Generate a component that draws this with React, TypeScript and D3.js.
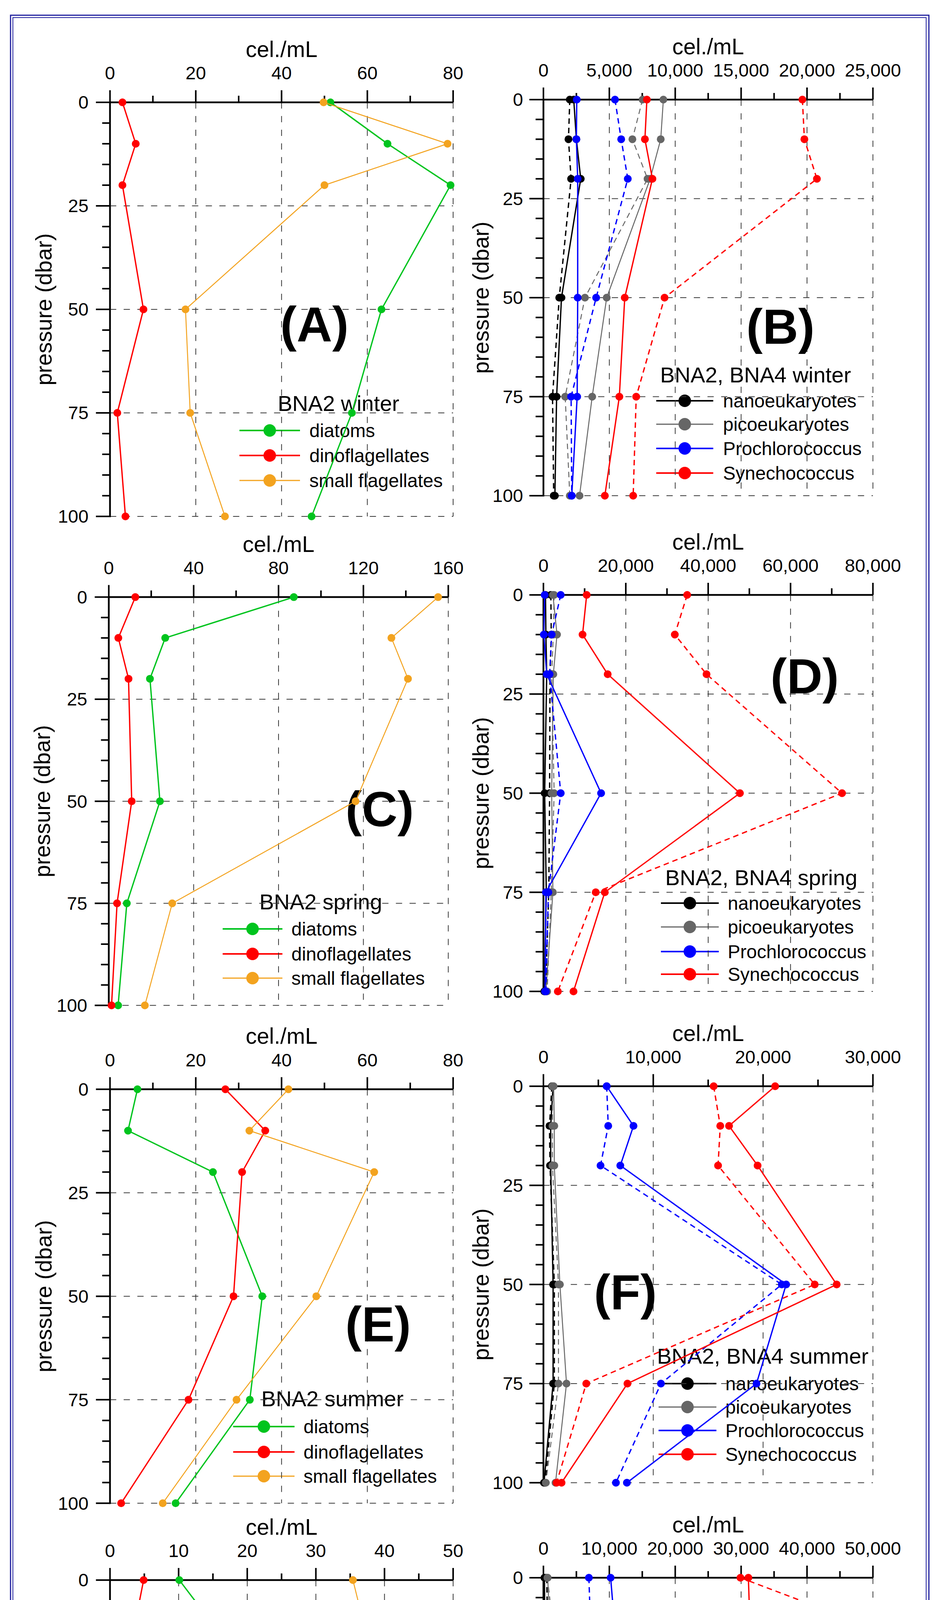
import * as d3 from "d3";

const W = 2409;
const H = 5241;

const DEPTHS = [0, 10, 20, 50, 75, 100];
const Y_TICKS = [0, 25, 50, 75, 100];

// BNA2 microscopy counts (cel./mL)
const winterDiatoms = [51.4, 64.7, 79.4, 63.3, 56.4, 47.0];
const winterDino = [2.9, 6.0, 2.9, 7.8, 1.7, 3.6];
const winterSmall = [49.8, 78.7, 50.0, 17.6, 18.7, 26.8];

const springDiatoms = [87.2, 26.6, 19.4, 24.1, 8.5, 4.4];
const springDino = [12.5, 4.5, 9.3, 10.8, 3.9, 1.3];
const springSmall = [155.2, 133.2, 141.0, 116.3, 29.9, 17.0];

const summerDiatoms = [6.4, 4.2, 24.0, 35.5, 32.6, 15.3];
const summerDino = [26.9, 36.2, 30.8, 28.8, 18.3, 2.6];
const summerSmall = [41.6, 32.5, 61.6, 48.1, 29.5, 12.3];

const autumnDiatoms = [10.1, 14.7, 12.8, 5.9, 7.8, 2.2];
const autumnDino = [4.9, 3.7, 2.1, 1.5, 0.9, 0.8];
const autumnSmall = [35.4, 36.9, 44.3, 27.7, 29.6, 8.6];

// flow cytometry, BNA2 (solid) and BNA4 (dashed), cel./mL
const winterNano2 = [2300, 2500, 2830, 1370, 1000, 870];
const winterNano4 = [2000, 1900, 2100, 1200, 690, 780];
const winterPico2 = [9100, 8900, 8100, 4800, 3700, 2740];
const winterPico4 = [7520, 6750, 7900, 3150, 1650, 2000];
const winterPro2 = [2530, 2500, 2600, 2600, 2560, 2150];
const winterPro4 = [5430, 5900, 6400, 4000, 2100, 2150];
const winterSyn2 = [7850, 7700, 8270, 6170, 5760, 4660];
const winterSyn4 = [19650, 19800, 20750, 9190, 7040, 6810];

const springNano2 = [500, 600, 800, 300, 700, 200];
const springNano4 = [1800, 1900, 1600, 1500, 1300, 500];
const springPico2 = [2300, 3300, 2400, 2000, 2300, 600];
const springPico4 = [2600, 2400, 2000, 2600, 1900, 900];
const springPro2 = [300, 100, 800, 14000, 600, 400];
const springPro4 = [4200, 2000, 1500, 4200, 1200, 600];
const springSyn2 = [10500, 9500, 15600, 47700, 14900, 7300];
const springSyn4 = [34900, 31900, 39600, 72500, 12700, 3500];

const summerNano2 = [880, 660, 660, 880, 880, 50];
const summerNano4 = [770, 550, 600, 990, 990, 160];
const summerPico2 = [930, 990, 990, 1500, 2100, 1100];
const summerPico4 = [820, 820, 820, 1370, 1370, 220];
const summerPro2 = [5760, 8200, 7000, 22100, 19400, 7600];
const summerPro4 = [5760, 5900, 5200, 21700, 10700, 6600];
const summerSyn2 = [21100, 16900, 19500, 26700, 7650, 1650];
const summerSyn4 = [15500, 16100, 15900, 24700, 3900, 1200];

const autumnNano2 = [150, 200, 200, 150, 100, 100];
const autumnNano4 = [500, 600, 600, 500, 700, 300];
const autumnPico2 = [650, 900, 1000, 650, 3400, 200];
const autumnPico4 = [600, 1300, 1200, 600, 800, 350];
const autumnPro2 = [10200, 10700, 16900, 18600, 11200, 3500];
const autumnPro4 = [6900, 7100, 10000, 23200, 15600, 7100];
const autumnSyn2 = [31100, 31300, 28200, 13600, 4300, 400];
const autumnSyn4 = [29900, 45800, 41100, 15400, 4200, 1300];

const GREEN = "#00c41e";
const RED = "#ff0000";
const ORANGE = "#f3a31f";
const GRAY = "#666666";
const BLUE = "#0000ff";
const BLACK = "#000000";
const FRAME = "#1f1f9e";

const FONT = "'Liberation Sans', Arial, Helvetica, sans-serif";

const MICRO_LABELS = ["diatoms", "dinoflagellates", "small flagellates"];
const MICRO_COLORS = [GREEN, RED, ORANGE];
const PICO_LABELS = ["nanoeukaryotes", "picoeukaryotes", "Prochlorococcus", "Synechococcus"];
const PICO_COLORS = [BLACK, GRAY, BLUE, RED];

// orange and gray traces are drawn a little thinner in the original
const strokeFor = (c: string) => (c === ORANGE || c === GRAY ? 2.5 : 3.4);

type Series = { values: number[]; color: string; dashed?: boolean };

interface PanelProps {
  letter: string;
  x0: number;
  x1: number;
  y0: number;
  y1: number;
  xMax: number;
  xStep: number;
  series: Series[];
  letterX: number;
  letterY: number;
  legendTitle: string;
  legendTitleX: number;
  legendTitleY: number;
  legendRows: number[];
  legendLine: [number, number];
  legendTextX: number;
  legendLabels: string[];
  legendColors: string[];
  titleOffset: number;
  labelGap: number;
}

function micro(a: number[], b: number[], c: number[]): Series[] {
  return [
    { values: a, color: GREEN },
    { values: b, color: RED },
    { values: c, color: ORANGE },
  ];
}

function pico(s: number[][]): Series[] {
  // s = [nano2, nano4, pico2, pico4, pro2, pro4, syn2, syn4]
  const out: Series[] = [];
  PICO_COLORS.forEach((color, i) => {
    out.push({ values: s[i * 2 + 1], color, dashed: true });
    out.push({ values: s[i * 2], color });
  });
  return out;
}

function Panel(p: PanelProps) {
  const x = d3.scaleLinear().domain([0, p.xMax]).range([p.x0, p.x1]);
  const y = d3.scaleLinear().domain([0, 100]).range([p.y0, p.y1]);
  const majors = d3.range(0, p.xMax + p.xStep / 2, p.xStep);
  const minors = d3.range(p.xStep / 2, p.xMax, p.xStep);
  const yMinors = d3.range(5, 100, 5).filter((v) => v % 25 !== 0);
  const fmt = p.xMax >= 1000 ? d3.format(",") : d3.format("d");
  const line = d3
    .line<number>()
    .x((v) => x(v))
    .y((_, i) => y(DEPTHS[i]));
  const gridDash = "16 19";

  return (
    <g>
      {/* legend */}
      <text
        x={p.legendTitleX}
        y={p.legendTitleY}
        dy="0.35em"
        fontSize={56}
        fontFamily={FONT}
        fill="#000"
      >
        {p.legendTitle}
      </text>
      {p.legendLabels.map((lab, i) => (
        <g key={lab}>
          <line
            x1={p.legendLine[0]}
            x2={p.legendLine[1]}
            y1={p.legendRows[i]}
            y2={p.legendRows[i]}
            stroke={p.legendColors[i]}
            strokeWidth={strokeFor(p.legendColors[i]) + 0.6}
          />
          <circle
            cx={(p.legendLine[0] + p.legendLine[1]) / 2}
            cy={p.legendRows[i]}
            r={16}
            fill={p.legendColors[i]}
          />
          <text
            x={p.legendTextX}
            y={p.legendRows[i]}
            dy="0.35em"
            fontSize={48}
            fontFamily={FONT}
            fill="#000"
          >
            {lab}
          </text>
        </g>
      ))}

      {/* grid */}
      {majors
        .filter((v) => v > 0)
        .map((v) => (
          <line
            key={"gx" + v}
            x1={x(v)}
            x2={x(v)}
            y1={p.y0}
            y2={p.y1}
            stroke="#3a3a3a"
            strokeWidth={2}
            strokeDasharray={gridDash}
          />
        ))}
      {Y_TICKS.filter((v) => v > 0).map((v) => (
        <line
          key={"gy" + v}
          x1={p.x0}
          x2={p.x1}
          y1={y(v)}
          y2={y(v)}
          stroke="#3a3a3a"
          strokeWidth={2}
          strokeDasharray={gridDash}
        />
      ))}

      {/* axes */}
      <line x1={p.x0} x2={p.x1} y1={p.y0} y2={p.y0} stroke="#000" strokeWidth={4.5} />
      <line x1={p.x0} x2={p.x0} y1={p.y0 - 2} y2={p.y1 + 2} stroke="#000" strokeWidth={4.5} />
      {majors.map((v) => (
        <line key={"tx" + v} x1={x(v)} x2={x(v)} y1={p.y0} y2={p.y0 - 31} stroke="#000" strokeWidth={4} />
      ))}
      {minors.map((v) => (
        <line key={"mx" + v} x1={x(v)} x2={x(v)} y1={p.y0} y2={p.y0 - 17} stroke="#000" strokeWidth={4} />
      ))}
      {Y_TICKS.map((v) => (
        <line key={"ty" + v} x1={p.x0} x2={p.x0 - 36} y1={y(v)} y2={y(v)} stroke="#000" strokeWidth={4} />
      ))}
      {yMinors.map((v) => (
        <line key={"my" + v} x1={p.x0} x2={p.x0 - 20} y1={y(v)} y2={y(v)} stroke="#000" strokeWidth={4} />
      ))}
      {majors.map((v) => (
        <text
          key={"lx" + v}
          x={x(v)}
          y={p.y0 - 75}
          dy="0.35em"
          textAnchor="middle"
          fontSize={47}
          fontFamily={FONT}
        >
          {fmt(v)}
        </text>
      ))}
      {Y_TICKS.map((v) => (
        <text
          key={"ly" + v}
          x={p.x0 - p.labelGap}
          y={y(v)}
          dy="0.35em"
          textAnchor="end"
          fontSize={47}
          fontFamily={FONT}
        >
          {v}
        </text>
      ))}
      <text
        x={(p.x0 + p.x1) / 2}
        y={p.y0 - 136}
        dy="0.35em"
        textAnchor="middle"
        fontSize={57}
        fontFamily={FONT}
      >
        cel./mL
      </text>
      <text
        transform={`translate(${p.x0 - p.titleOffset},${(p.y0 + p.y1) / 2}) rotate(-90)`}
        dy="0.35em"
        textAnchor="middle"
        fontSize={57}
        fontFamily={FONT}
      >
        pressure (dbar)
      </text>

      {/* panel letter */}
      <text
        x={p.letterX}
        y={p.letterY}
        dy="0.36em"
        textAnchor="middle"
        fontSize={126}
        fontWeight="bold"
        fontFamily={FONT}
      >
        ({p.letter})
      </text>

      {/* data */}
      {p.series.map((s, i) => (
        <g key={"s" + i}>
          <path
            d={line(s.values) ?? ""}
            fill="none"
            stroke={s.color}
            strokeWidth={strokeFor(s.color)}
            strokeDasharray={s.dashed ? "14 10" : undefined}
            strokeLinejoin="round"
          />
          {s.values.map((v, j) => (
            <circle key={j} cx={x(v)} cy={y(DEPTHS[j])} r={10} fill={s.color} />
          ))}
        </g>
      ))}
    </g>
  );
}

const LEFT = { x0: 281.6, x1: 1160, titleOffset: 170, labelGap: 55, legendLabels: MICRO_LABELS, legendColors: MICRO_COLORS };
const RIGHT = { x0: 1391.2, x1: 2234.7, titleOffset: 160, labelGap: 52, legendLabels: PICO_LABELS, legendColors: PICO_COLORS };

const PANELS: PanelProps[] = [
  {
    ...LEFT,
    letter: "A",
    y0: 262,
    y1: 1322,
    xMax: 80,
    xStep: 20,
    series: micro(winterDiatoms, winterDino, winterSmall),
    letterX: 805,
    letterY: 829,
    legendTitle: "BNA2 winter",
    legendTitleX: 711,
    legendTitleY: 1032,
    legendRows: [1102, 1166, 1230],
    legendLine: [613, 768],
    legendTextX: 792,
  },
  {
    ...RIGHT,
    letter: "B",
    y0: 255,
    y1: 1269,
    xMax: 25000,
    xStep: 5000,
    series: pico([winterNano2, winterNano4, winterPico2, winterPico4, winterPro2, winterPro4, winterSyn2, winterSyn4]),
    letterX: 1998,
    letterY: 835,
    legendTitle: "BNA2, BNA4 winter",
    legendTitleX: 1690,
    legendTitleY: 959,
    legendRows: [1026, 1086, 1148, 1211],
    legendLine: [1680, 1826],
    legendTextX: 1851,
  },
  {
    ...LEFT,
    x0: 278.5,
    x1: 1147.6,
    letter: "C",
    y0: 1528.6,
    y1: 2573.8,
    xMax: 160,
    xStep: 40,
    series: micro(springDiatoms, springDino, springSmall),
    letterX: 972,
    letterY: 2070,
    legendTitle: "BNA2 spring",
    legendTitleX: 664,
    legendTitleY: 2308,
    legendRows: [2378, 2442, 2504],
    legendLine: [570, 723],
    legendTextX: 746,
  },
  {
    ...RIGHT,
    letter: "D",
    y0: 1523,
    y1: 2538,
    xMax: 80000,
    xStep: 20000,
    series: pico([springNano2, springNano4, springPico2, springPico4, springPro2, springPro4, springSyn2, springSyn4]),
    letterX: 2060,
    letterY: 1730,
    legendTitle: "BNA2, BNA4 spring",
    legendTitleX: 1703,
    legendTitleY: 2246,
    legendRows: [2312, 2373, 2436, 2494],
    legendLine: [1692, 1840],
    legendTextX: 1863,
  },
  {
    ...LEFT,
    letter: "E",
    y0: 2788.5,
    y1: 3848.3,
    xMax: 80,
    xStep: 20,
    series: micro(summerDiatoms, summerDino, summerSmall),
    letterX: 968,
    letterY: 3389,
    legendTitle: "BNA2 summer",
    legendTitleX: 669,
    legendTitleY: 3580,
    legendRows: [3652, 3717, 3779],
    legendLine: [597, 754],
    legendTextX: 777,
  },
  {
    ...RIGHT,
    letter: "F",
    y0: 2780.7,
    y1: 3795.8,
    xMax: 30000,
    xStep: 10000,
    series: pico([summerNano2, summerNano4, summerPico2, summerPico4, summerPro2, summerPro4, summerSyn2, summerSyn4]),
    letterX: 1601,
    letterY: 3307,
    legendTitle: "BNA2, BNA4 summer",
    legendTitleX: 1682,
    legendTitleY: 3471,
    legendRows: [3542, 3602, 3662, 3723],
    legendLine: [1686, 1834],
    legendTextX: 1857,
  },
  {
    ...LEFT,
    letter: "G",
    y0: 4045,
    y1: 5109.6,
    xMax: 50,
    xStep: 10,
    series: micro(autumnDiatoms, autumnDino, autumnSmall),
    letterX: 931,
    letterY: 4630,
    legendTitle: "BNA2 autumn",
    legendTitleX: 702,
    legendTitleY: 4810,
    legendRows: [4881, 4945, 5008],
    legendLine: [625, 779],
    legendTextX: 801,
  },
  {
    ...RIGHT,
    letter: "H",
    y0: 4039,
    y1: 5055.5,
    xMax: 50000,
    xStep: 10000,
    series: pico([autumnNano2, autumnNano4, autumnPico2, autumnPico4, autumnPro2, autumnPro4, autumnSyn2, autumnSyn4]),
    letterX: 1998,
    letterY: 4564,
    legendTitle: "BNA2, BNA4 autumn",
    legendTitleX: 1661,
    legendTitleY: 4741,
    legendRows: [4812, 4872, 4932, 4996],
    legendLine: [1665, 1815],
    legendTextX: 1838,
  },
];

export default function App() {
  return (
    <svg
      width={W}
      height={H}
      viewBox={`0 0 ${W} ${H}`}
      style={{ display: "block", margin: -8, background: "#fff" }}
    >
      <rect x={0} y={0} width={W} height={H} fill="#fff" />
      <rect x={27} y={39} width={2351} height={5166} fill="none" stroke={FRAME} strokeWidth={3} />
      <rect x={33} y={45} width={2338} height={5153} fill="none" stroke={FRAME} strokeWidth={2} />
      {PANELS.map((p) => (
        <Panel key={p.letter} {...p} />
      ))}
    </svg>
  );
}
